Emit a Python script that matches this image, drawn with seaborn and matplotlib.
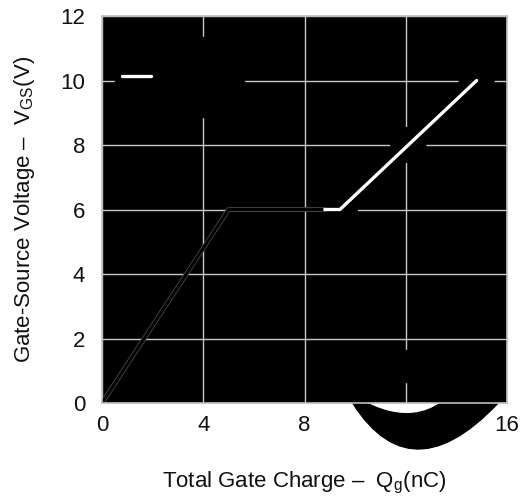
import matplotlib
matplotlib.use("Agg")
import matplotlib.pyplot as plt
import matplotlib.patheffects as pe
from matplotlib.lines import Line2D
import seaborn as sns

# ---- data ----
black_q = [0.0, 5.0, 8.8]          # nC
black_v = [0.0, 6.0, 6.0]          # V
white_q = [8.8, 9.4, 12.1, 14.8]
white_v = [6.0, 6.0, 8.0, 10.0]
marker_q = [9.4, 12.1, 14.8]
marker_v = [6.0, 8.0, 10.0]
x_ticks = [0, 4, 8, 12, 16]
y_ticks = [0, 2, 4, 6, 8, 10, 12]
legend_labels = ["VDS=10V", "VDS=20V", "ID=5.0A"]
note_label = "ID"

sns.set_theme(style="whitegrid")
plt.rcParams["font.family"] = ["Liberation Sans", "DejaVu Sans"]
plt.rcParams["mathtext.fontset"] = "custom"
plt.rcParams["mathtext.rm"] = "Liberation Sans"
plt.rcParams["mathtext.it"] = "Liberation Sans"

fig = plt.figure(figsize=(5.26, 4.97), dpi=100)
ax = fig.add_axes([0.1939, 0.1891, 0.770, 0.7787])
ax.set_facecolor("black")

# hidden black markers under the white curve
sns.scatterplot(x=marker_q, y=marker_v, ax=ax, color="black", s=26 ** 2,
                edgecolor="none", zorder=1.8, legend=False)

sns.lineplot(x=black_q, y=black_v, ax=ax, color="black", lw=2.2,
             estimator=None, sort=False, zorder=2,
             path_effects=[pe.Stroke(linewidth=3.4, foreground="#4a4a4a"), pe.Normal()])
sns.lineplot(x=white_q, y=white_v, ax=ax, color="white", lw=2.4,
             estimator=None, sort=False, zorder=2.1)

# black annotation label box
ax.text(12.0, 1.15, note_label, color="black", fontsize=12, ha="center", va="center",
        zorder=1.8, bbox=dict(boxstyle="square,pad=0.5", fc="black", ec="black"))

# curved wedge annotation below the axis
ax.annotate("", xy=(9.6, 0.4), xytext=(15.0, 0.4), annotation_clip=False, fontsize=12,
            zorder=1.7,
            arrowprops=dict(arrowstyle="wedge,tail_width=2.5,shrink_factor=0.85",
                            connectionstyle="arc3,rad=-0.6", color="black",
                            shrinkA=0, shrinkB=0))

ax.set_xlim(0, 16)
ax.set_ylim(0, 12)
ax.set_xticks(x_ticks)
ax.set_yticks(y_ticks)
ax.grid(True, color="#c8c8c8", lw=1.0)
ax.tick_params(axis="both", length=0, labelsize=16, colors="#111111")
ax.tick_params(axis="x", pad=8.5)
ax.tick_params(axis="y", pad=12)
for s in ax.spines.values():
    s.set_visible(True)
    s.set_color("#bdbdbd")
    s.set_linewidth(1.2)

ax.set_xlabel("Total Gate Charge \u2013  Q$_{\\mathregular{g}}$(nC)", fontsize=16,
              labelpad=24.5, color="#111111")
ax.set_ylabel("Gate-Source Voltage \u2013  V$_{\\mathregular{GS}}$(V)", fontsize=16,
              labelpad=17, color="#111111")

handles = [Line2D([], [], color="black", lw=2.4),
           Line2D([], [], color="white", lw=2.4),
           Line2D([], [], color="black", lw=2.4)]
leg = ax.legend(handles, legend_labels, loc="upper left", bbox_to_anchor=(0.032, 0.946),
                borderaxespad=0, facecolor="black", edgecolor="black", framealpha=1,
                fontsize=12, handlelength=1.75, labelspacing=0.65, labelcolor="black",
                fancybox=False)
leg.set_zorder(5)

fig.savefig("out.png", dpi=100)
